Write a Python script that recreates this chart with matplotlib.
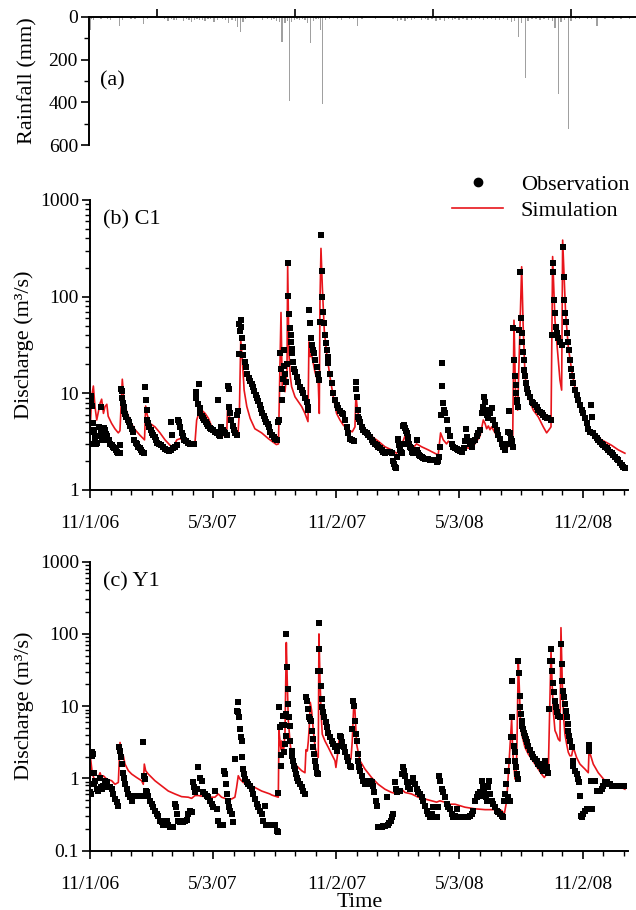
import matplotlib
matplotlib.use('Agg')
import matplotlib.pyplot as plt
import matplotlib.ticker as ticker
from matplotlib.lines import Line2D
import numpy as np

plt.rcParams['font.family'] = ['Liberation Serif', 'DejaVu Serif']

# x values are days since 11/1/06
date_ticks = [0, 183, 366, 549, 732]
date_labels = ['11/1/06', '5/3/07', '11/2/07', '5/3/08', '11/2/08']
rain_ticks = [99, 303, 508, 712]

# (day, mm)
rain = [(0, 60), (2, 8), (5, 12), (9, 6), (12, 5), (16, 10), (20, 6), (25, 8), (30, 14), (36, 5),
        (43, 40), (48, 12), (55, 6), (60, 8), (66, 10), (72, 5), (79, 35), (85, 8), (90, 6), (96, 4),
        (103, 6), (110, 10), (115, 18), (120, 8), (124, 15), (128, 12), (133, 5), (138, 18), (142, 10),
        (146, 14), (150, 22), (154, 12), (158, 8), (162, 16), (166, 12), (170, 20), (174, 8), (178, 10),
        (183, 25), (188, 12), (192, 6), (196, 10), (200, 14), (205, 30), (210, 12), (215, 18), (218, 45),
        (222, 70), (226, 25), (230, 8), (236, 6), (242, 10), (248, 6), (255, 12), (262, 8), (268, 14),
        (272, 10), (276, 18), (280, 22), (284, 115), (288, 30), (292, 20), (295, 395), (298, 25),
        (302, 14), (306, 10), (310, 15), (314, 8), (318, 12), (322, 30), (326, 120), (330, 20),
        (334, 10), (338, 8), (341, 60), (344, 410), (348, 15), (354, 10), (360, 6), (366, 8), (372, 12),
        (378, 6), (384, 10), (390, 8), (396, 40), (402, 10), (408, 6), (415, 5), (422, 8), (430, 6),
        (440, 5), (448, 10), (455, 18), (460, 12), (466, 20), (470, 8), (476, 15), (480, 10), (486, 6),
        (490, 12), (496, 8), (500, 14), (506, 10), (512, 18), (518, 12), (524, 20), (530, 10), (536, 15),
        (540, 8), (546, 12), (552, 10), (558, 16), (564, 12), (570, 8), (576, 10), (582, 14), (588, 8),
        (594, 10), (600, 12), (606, 16), (612, 10), (618, 14), (624, 25), (628, 18), (634, 95), (638, 30),
        (644, 285), (648, 20), (654, 10), (660, 8), (666, 12), (672, 10), (678, 15), (684, 20), (688, 50),
        (693, 360), (697, 25), (702, 15), (708, 525), (712, 20), (718, 10), (724, 8), (730, 6), (736, 10),
        (742, 8), (750, 40), (756, 6), (762, 10), (768, 5), (774, 8), (780, 6), (786, 10), (792, 5),
        (798, 8), (804, 5)]

# (day, m3/s) station C1
c1_obs = [(0, 3.0), (1, 9.4), (2, 8.6), (3, 7.4), (4, 4.9), (5, 4.0), (6, 4.2), (7, 3.6), (8, 3.2), (9, 3.0),
          (10, 3.1), (12, 3.6), (14, 4.5), (16, 4.0), (17, 7.3), (18, 3.5), (19, 3.3), (20, 3.8), (21, 4.4),
          (22, 4.2), (24, 3.8), (25, 3.6), (26, 3.5), (28, 3.3), (30, 3.0), (32, 2.9), (34, 2.8), (36, 2.7),
          (38, 2.6), (40, 2.5), (42, 2.4), (44, 2.4), (45, 2.9), (46, 11.2), (47, 10.6), (48, 9.0), (49, 8.0),
          (50, 7.2), (51, 6.6), (52, 6.1), (54, 5.7), (56, 5.3), (58, 5.0), (60, 4.6), (62, 4.3), (64, 4.0),
          (66, 3.3), (68, 3.1), (70, 3.0), (72, 2.8), (74, 2.7), (76, 2.6), (78, 2.5), (80, 2.4), (82, 11.5),
          (83, 8.5), (84, 6.7), (85, 5.3), (86, 4.9), (88, 4.5), (90, 4.2), (92, 3.9), (94, 3.7), (96, 3.5),
          (98, 3.3), (100, 3.1), (102, 3.0), (105, 2.9), (108, 2.8), (111, 2.65), (114, 2.6), (117, 2.55),
          (120, 2.6), (121, 5.1), (122, 3.7), (124, 2.7), (127, 2.8), (129, 2.9), (131, 5.3), (132, 5.0),
          (134, 4.5), (136, 3.9), (138, 3.6), (140, 3.3), (143, 3.2), (146, 3.1), (149, 3.0), (152, 3.0),
          (155, 3.0), (157, 10.3), (158, 9.0), (160, 7.7), (162, 12.4), (163, 7.0), (164, 6.2), (166, 5.8),
          (168, 5.6), (170, 5.3), (172, 5.0), (174, 4.8), (176, 4.6), (178, 4.4), (180, 4.3), (183, 4.2),
          (186, 4.0), (188, 3.9), (190, 8.5), (191, 3.7), (193, 3.6), (195, 4.5), (197, 4.2), (199, 4.0),
          (201, 3.9), (203, 3.7), (205, 11.8), (206, 11.0), (207, 7.3), (208, 6.2), (210, 5.3), (212, 4.6),
          (214, 4.2), (216, 3.9), (218, 3.7), (219, 6.0), (220, 6.5), (221, 25.8), (222, 52), (223, 44),
          (224, 57), (225, 48), (226, 37), (227, 30), (228, 25), (230, 21), (232, 18.8), (234, 16),
          (236, 14.5), (238, 13.5), (240, 12.5), (242, 11.5), (244, 10.5), (246, 9.6), (248, 9.0), (250, 8.3),
          (252, 7.5), (254, 6.9), (256, 6.3), (258, 5.8), (260, 5.4), (262, 5.1), (264, 4.8), (266, 4.5),
          (268, 4.0), (270, 3.7), (273, 3.5), (275, 3.4), (278, 3.3), (280, 5.0), (281, 5.3), (283, 26),
          (284, 18), (285, 11), (286, 8.5), (287, 14), (288, 28), (289, 19), (290, 16), (291, 13), (292, 20),
          (293.7, 224), (294.7, 101), (295.6, 66), (297, 47), (298, 40), (298.6, 34), (299.6, 29),
          (300.6, 26), (302, 21), (303.6, 18), (304.6, 16.7), (307, 14.9), (309.5, 13.2), (312, 11.7),
          (314.5, 10.8), (317, 10), (319.4, 8.9), (322, 8.2), (323.4, 7.3), (324.4, 6.7), (325.4, 73),
          (326.9, 54), (327.9, 37), (329.3, 31.7), (330.8, 28), (332.3, 26), (334.3, 22), (336.8, 18.8),
          (339.2, 16), (340.7, 13.7), (341.7, 55), (342.7, 435), (344.2, 186), (345.2, 99), (346.7, 70),
          (348.2, 53), (349.2, 40), (350.6, 33), (351.6, 28), (353.1, 24), (354.1, 20.5), (356.6, 16),
          (359, 12.7), (361.5, 10), (364, 8.5), (366.5, 7.6), (369, 7), (371.4, 6.5), (373.9, 6.2),
          (376.4, 6.1), (378.9, 5.3), (381.3, 4.5), (383.8, 3.9), (386.3, 3.4), (389.8, 3.3), (392, 3.2),
          (394.7, 13), (395.5, 11), (396.2, 9.2), (397.7, 6.7), (398.7, 5.7), (400, 5.4), (401.2, 5.1),
          (403.6, 4.5), (406, 4.2), (408.6, 4.0), (411, 3.85), (413.5, 3.7), (416, 3.5), (418.5, 3.3),
          (421, 3.15), (423.4, 3.0), (426, 2.9), (428.4, 2.8), (431, 2.7), (433.3, 2.6), (436, 2.5),
          (438.3, 2.4), (441, 2.45), (443.3, 2.5), (446, 2.45), (448.2, 2.4), (450.7, 2.0), (452, 1.85),
          (453, 1.74), (454, 1.7), (455.5, 2.2), (457, 3.4), (458, 3.3), (459, 2.9), (460.6, 2.6), (462, 2.5),
          (463, 2.4), (464.5, 3.0), (465.5, 4.6), (466.5, 4.7), (468, 4.4), (469, 4.1), (470.5, 3.9),
          (472, 3.5), (473, 3.3), (474, 3.0), (475.4, 2.8), (477, 2.7), (478, 2.6), (479, 2.5), (480.4, 2.4),
          (482, 2.4), (483.5, 2.5), (485.4, 3.3), (486, 2.6), (487.8, 2.4), (489, 2.3), (490.5, 2.25),
          (492.8, 2.2), (495, 2.15), (497.7, 2.1), (500, 2.1), (502.7, 2.08), (505, 2.06), (507.6, 2.04),
          (510, 2.05), (512.6, 2.04), (515, 1.96), (517.5, 2.0), (519, 2.2), (520, 2.8), (521.5, 6.0),
          (522.5, 20.5), (523.5, 12), (525, 7.9), (526.2, 6.8), (527.5, 6.2), (530, 5.3), (532.5, 4.2),
          (535, 3.6), (537.4, 3.0), (540, 2.8), (542.4, 2.7), (545, 2.65), (547.3, 2.6), (550, 2.55),
          (552.3, 2.5), (555, 2.7), (557.2, 3.2), (558.2, 4.3), (559.7, 3.55), (562.2, 3.2), (564.5, 3.0),
          (567.1, 2.8), (569.6, 3.2), (572, 3.3), (574.5, 3.6), (577, 3.9), (579.5, 4.2), (582, 6.2),
          (583.4, 7.3), (585.4, 9.2), (586.9, 8.2), (588.4, 6.7), (589.4, 6.0), (591.9, 5.5), (594.3, 6.2),
          (596.8, 7.0), (599.3, 5.3), (601.8, 4.7), (604.2, 4.2), (606.7, 3.7), (609.2, 3.4), (611.7, 3.0),
          (614.1, 2.8), (616.6, 2.6), (619.1, 3.0), (621, 4.0), (622.6, 6.5), (624, 3.9), (625.5, 3.4),
          (626.5, 3.2), (628, 2.8), (629, 47), (630.5, 22), (631.5, 15), (632.5, 12.2), (633, 10), (634, 8.5),
          (635, 8.2), (636.4, 7.3), (637.4, 45), (638.9, 181), (640.4, 60), (641.4, 41.8), (642.4, 34),
          (643.3, 27), (644.3, 22), (645.3, 17.5), (646.3, 15), (647.8, 12.7), (649.3, 11.2), (651.3, 10),
          (653.7, 9.2), (656.2, 8.2), (658.7, 7.9), (661.2, 7.6), (663.6, 7.3), (666.1, 6.7), (668.5, 6.4),
          (671, 6.2), (673.5, 5.9), (676, 5.7), (678.5, 5.6), (681, 5.5), (685, 5.3), (686, 40), (687.4, 181),
          (688.4, 221), (689.9, 92), (690.9, 67), (692.4, 49), (693.8, 42), (695.8, 37), (698.3, 34),
          (700.8, 31.5), (702.3, 330), (703.8, 160), (704.8, 92), (705.7, 67), (706.7, 55), (708.2, 42),
          (709.7, 34), (711.7, 28), (713.2, 22), (714.6, 18), (716.6, 15), (718.1, 12.7), (720.6, 10.8),
          (723, 9.6), (725.5, 8.5), (728, 7.6), (730.5, 6.7), (733, 6.2), (735.4, 5.5), (737.9, 4.9),
          (740.4, 4.3), (742.9, 4.0), (744.4, 7.6), (745.3, 5.7), (747.8, 3.9), (750.3, 3.6), (752.8, 3.45),
          (755.3, 3.3), (757.8, 3.15), (760.3, 3.0), (762.8, 2.9), (765.2, 2.8), (767.7, 2.7), (770.2, 2.6),
          (772.7, 2.5), (775.1, 2.4), (777.6, 2.3), (780, 2.2), (782.5, 2.1), (785, 2.04), (787.5, 1.9),
          (790, 1.8), (792.5, 1.75), (795, 1.67)]

c1_sim = [(0, 4.0), (2.5, 9.2), (5, 11.9), (7.4, 7.3), (10, 5.3), (12, 6.2), (15, 7.9), (17.3, 8.7), (20, 6.2),
          (22.3, 7.3), (25, 7.7), (27, 5.8), (32, 4.9), (37, 4.3), (42, 3.9), (44.5, 4.1), (48, 14), (50, 9.2),
          (52, 7.3), (57, 5.8), (62, 4.8), (67, 4.2), (74, 3.7), (81, 3.3), (82.7, 7.4), (85, 6.0), (89, 4.9),
          (96.5, 4.5), (104, 3.9), (111.5, 3.3), (119, 2.9), (124, 2.8), (129, 3.3), (134, 3.4), (141, 3.2),
          (151, 3.0), (156, 3.1), (158.5, 5.3), (161, 6.0), (166, 6.7), (171, 6.2), (176, 5.5), (181, 4.5),
          (188, 4.0), (196, 3.7), (203, 3.6), (204.5, 7.3), (206.5, 6.0), (210.5, 4.8), (215.5, 3.9),
          (220, 3.9), (222, 6.6), (224, 35.5), (226.5, 21.8), (229, 10.8), (233, 7.3), (238, 5.5), (245, 4.3),
          (255, 3.9), (265, 3.4), (277, 2.95), (280, 3.0), (283.8, 68.6), (285.7, 10.8), (287.7, 11.7),
          (289.7, 10.4), (292.7, 17), (293.7, 212), (295.6, 26), (297.6, 15), (299.6, 11.7), (304.6, 9.2),
          (309.5, 8.2), (314.5, 7.3), (319.4, 6.2), (323.9, 5.1), (325.3, 34), (327.3, 24), (329.3, 25),
          (334.3, 16.6), (339.2, 12.7), (340.7, 6.2), (341.7, 86), (343.2, 316), (345.2, 127), (348.1, 45),
          (351.6, 26), (356.5, 15), (361.5, 9.2), (366.4, 6.2), (371.4, 5.3), (376.3, 4.7), (383.8, 4.2),
          (389.7, 4.0), (393.7, 4.5), (395.1, 9.6), (397.6, 6.5), (401.1, 5.3), (408.5, 4.3), (418.4, 3.6),
          (428.3, 3.2), (438.2, 2.8), (448.1, 2.6), (455.5, 2.4), (460.5, 2.6), (467.9, 3.6), (472.9, 3.0),
          (477.8, 2.6), (485.2, 3.0), (492.7, 2.8), (502.6, 2.6), (512.5, 2.4), (517.4, 2.3), (520.9, 3.9),
          (524.9, 3.3), (529.8, 3.0), (532.5, 3.2), (542.4, 2.8), (552.3, 2.6), (557.2, 2.8), (562.2, 2.7),
          (572, 3.0), (579.5, 3.6), (584.4, 5.3), (586.9, 4.9), (589.4, 4.3), (591.9, 4.6), (594.3, 4.2),
          (596.8, 4.5), (601.8, 3.9), (611.7, 3.0), (619.1, 2.7), (624, 3.0), (628, 3.0), (630, 57),
          (632.5, 8.5), (635.4, 6.7), (637.4, 20), (641.4, 204), (643.8, 45), (646.3, 16), (648.8, 10.8),
          (653.7, 8.2), (658.7, 6.7), (666.1, 5.7), (673.5, 4.5), (678.5, 3.9), (682, 4.2), (685, 4.5),
          (687.4, 260), (690.9, 57), (695.8, 22), (698.3, 13.7), (700.8, 10.8), (702.3, 385), (704.7, 148),
          (706.7, 67), (710.7, 30), (715.6, 17.5), (723, 9.2), (730.5, 6.2), (737.9, 4.7), (742.9, 3.9),
          (745.3, 4.2), (750.3, 3.7), (760.2, 3.3), (775, 2.9), (785, 2.6), (794.8, 2.4)]

# (day, m3/s) station Y1
y1_obs = [(0, 0.64), (1.5, 0.61), (2.5, 2.3), (3.5, 2.06), (5, 2.17), (5.5, 0.83), (6.4, 1.2), (7.4, 0.93),
          (9.9, 0.71), (12.4, 0.68), (14.9, 1.03), (16.3, 0.75), (18, 0.72), (19.8, 0.79), (22.3, 0.93),
          (24.8, 0.88), (27.2, 0.75), (29.7, 0.75), (32.2, 0.71), (34.7, 0.61), (37.1, 0.52), (39.6, 0.47),
          (42.1, 0.42), (43.6, 2.7), (45, 2.4), (46, 1.95), (47, 1.58), (48.5, 1.2), (50, 1.03), (52, 0.83),
          (54.5, 0.71), (57, 0.61), (59.4, 0.55), (61.9, 0.49), (64.4, 0.58), (66.8, 0.58), (69, 0.58),
          (71.8, 0.58), (74, 0.58), (76.7, 0.58), (79.2, 3.15), (80.2, 1.09), (81.7, 0.98), (82.7, 0.67),
          (84.2, 0.64), (86.6, 0.58), (89.1, 0.49), (91.6, 0.44), (94, 0.40), (96.5, 0.36), (99, 0.32),
          (101.5, 0.3), (104, 0.26), (106.4, 0.25), (108.9, 0.23), (111.4, 0.26), (113.9, 0.26), (116.3, 0.23),
          (118.8, 0.21), (121.3, 0.21), (123.8, 0.21), (126.2, 0.44), (127.2, 0.40), (128.7, 0.32),
          (131.2, 0.26), (133.7, 0.25), (136.1, 0.26), (138.6, 0.25), (141.1, 0.26), (143.6, 0.27), (146, 0.32),
          (148.5, 0.36), (151, 0.34), (153.5, 0.88), (155, 0.75), (156, 0.64), (158.4, 0.71), (160.9, 1.42),
          (163.4, 1.03), (165.8, 0.93), (168.3, 0.64), (170.8, 0.61), (173.3, 0.58), (175.7, 0.55),
          (178.2, 0.49), (180.7, 0.44), (183.2, 0.40), (185.6, 0.67), (188, 0.38), (190.6, 0.26), (193, 0.23),
          (195.5, 0.23), (198, 0.23), (199.5, 1.28), (200.5, 1.15), (201.5, 0.83), (203, 0.61), (204.5, 0.49),
          (206.4, 0.40), (208, 0.36), (210.4, 0.32), (212.9, 0.25), (215.3, 1.85), (217.8, 8.6), (219.3, 11.3),
          (220.3, 8.2), (221.3, 7.0), (222.8, 4.8), (224.3, 3.7), (225.2, 3.3), (226.2, 1.95), (227.7, 1.35),
          (229.2, 1.15), (230.2, 0.98), (232.7, 0.88), (235.1, 0.83), (237.6, 0.79), (240, 0.71), (242.6, 0.61),
          (245, 0.52), (247.5, 0.44), (250, 0.40), (252.5, 0.36), (255, 0.32), (257.4, 0.26), (260, 0.42),
          (261, 0.23), (262.5, 0.23), (265, 0.23), (267.5, 0.23), (270, 0.23), (272.5, 0.23), (274.9, 0.23),
          (277.3, 0.19), (279.8, 0.18), (279.9, 0.62), (280.8, 9.8), (282.3, 5.1), (283.3, 2.1), (283.8, 1.5),
          (285.7, 5.5), (287.2, 7.4), (288.2, 5.5), (288.7, 2.3), (289.7, 3.0), (290.7, 3.9), (291.2, 7.8),
          (291.7, 100), (292.7, 35), (293.7, 17.2), (294.7, 10.6), (295.6, 7.0), (296.6, 5.3), (297.6, 3.3),
          (299.6, 2.4), (300.6, 2.06), (302, 1.76), (303.6, 1.5), (304.6, 1.35), (306, 1.15), (307.5, 1.03),
          (309.5, 0.93), (312, 0.85), (314.5, 0.75), (317, 0.67), (319.4, 0.61), (320.9, 13.2), (322.4, 11.9),
          (324.4, 9.1), (325.8, 7.0), (326.8, 6.6), (328.3, 6.3), (329.3, 4.6), (330.8, 3.5), (331.8, 2.7),
          (333.3, 2.17), (334.3, 1.76), (335.7, 1.42), (337.2, 1.2), (338.2, 1.15), (339.2, 31), (340.2, 62),
          (340.7, 141), (341.7, 31), (342.7, 19.2), (344.2, 12.5), (345.1, 9.6), (346.6, 8.2), (348.1, 7.0),
          (350.1, 6.0), (352.1, 5.1), (354, 4.3), (356.5, 3.7), (359, 3.3), (361.5, 3.0), (364, 2.7),
          (366.4, 2.4), (368.9, 2.8), (371.4, 3.9), (372.9, 3.7), (374.9, 3.15), (376.8, 2.7), (378.8, 2.3),
          (381.3, 1.95), (383.8, 1.76), (386.2, 1.5), (387.7, 1.42), (389.7, 4.8), (391.2, 11.9), (392.7, 10.1),
          (393.7, 6.3), (394.7, 4.1), (396.1, 3.3), (397.6, 2.17), (398.6, 1.76), (400.1, 1.42), (401.6, 1.28),
          (403.6, 1.09), (406, 0.93), (408.5, 0.83), (411, 0.85), (413.5, 0.93), (415.9, 0.93), (418.4, 0.88),
          (420.9, 0.79), (422.4, 0.64), (424.4, 0.49), (425.8, 0.42), (428.3, 0.21), (430.8, 0.21),
          (433.3, 0.21), (435.8, 0.22), (438.2, 0.22), (440.7, 0.56), (443.2, 0.23), (445, 0.24), (447.1, 0.26),
          (449.1, 0.29), (450.6, 0.32), (453, 0.88), (454, 0.71), (455.5, 0.64), (458, 0.67), (460.5, 0.67),
          (463, 1.15), (464.5, 1.42), (466, 1.28), (468, 1.09), (470.4, 0.88), (472.9, 0.75), (475.4, 0.71),
          (477.8, 0.88), (480.3, 1.03), (482.8, 0.83), (485.2, 0.71), (487.7, 0.64), (490.2, 0.61),
          (492.7, 0.55), (495.1, 0.49), (497.6, 0.42), (500.1, 0.36), (502.6, 0.32), (505, 0.29), (507.5, 0.32),
          (510, 0.40), (512.5, 0.29), (515, 0.29), (517.4, 0.40), (518.9, 1.09), (519.9, 0.93), (522.4, 0.71),
          (524.9, 0.64), (527.3, 0.55), (529.8, 0.44), (532.3, 0.40), (535, 0.38), (537.4, 0.32), (539.9, 0.29),
          (542, 0.3), (544.8, 0.38), (547.3, 0.29), (550, 0.29), (552.3, 0.29), (555, 0.29), (557.2, 0.29),
          (560, 0.29), (562.2, 0.29), (565, 0.3), (567.1, 0.32), (569.6, 0.36), (572, 0.49), (574.5, 0.55),
          (577, 0.61), (579.5, 0.64), (582, 0.93), (583.4, 0.79), (584.4, 0.58), (585.9, 0.64), (587.9, 0.55),
          (589.4, 0.49), (591.9, 0.75), (593.3, 0.93), (594.8, 0.61), (596.8, 0.49), (599.3, 0.44),
          (601.8, 0.40), (604.2, 0.36), (606.7, 0.34), (609.2, 0.32), (611.7, 0.30), (614.1, 0.29),
          (615.6, 0.49), (616.6, 0.61), (618.1, 0.83), (619.1, 1.28), (620.6, 1.76), (621.6, 0.55), (624, 0.49),
          (625.5, 3.7), (626.5, 7.0), (627.5, 22.5), (629, 3.7), (630, 2.8), (631, 2.3), (632, 1.76),
          (633, 1.42), (634, 1.15), (635.4, 0.98), (636.4, 42.4), (637.4, 29), (638.4, 14), (639.4, 9.8),
          (640.4, 7.8), (641.4, 6.3), (642.4, 5.3), (643.8, 4.8), (645.3, 4.3), (646.3, 3.9), (647.8, 3.5),
          (649.8, 3.15), (651.3, 2.8), (653.7, 2.5), (656.2, 2.17), (658.7, 1.95), (661.2, 1.85), (663.6, 1.76),
          (666.1, 1.58), (668.6, 1.5), (671, 1.35), (673.5, 1.28), (675, 1.58), (676, 1.76), (678.5, 1.42),
          (681, 1.2), (682, 9.1), (683.4, 42.4), (685, 61), (686, 42), (687, 31), (688.4, 21), (689.4, 15.5),
          (690.9, 11.9), (692.4, 9.6), (693.8, 8.2), (695.8, 7.4), (698.3, 7.0), (699.8, 72), (700.8, 38),
          (701.8, 22.5), (703.2, 16.3), (704.2, 13.2), (705.7, 10.6), (706.7, 8.7), (708.2, 7.0), (709.7, 5.6),
          (710.7, 4.6), (712.2, 3.9), (713.6, 3.3), (715.6, 2.7), (717.1, 1.76), (718.1, 1.5), (720.6, 1.28),
          (723, 1.15), (725.5, 0.98), (727, 0.88), (728, 0.58), (729.5, 0.3), (730.5, 0.29), (733, 0.32),
          (735.4, 0.36), (737.9, 0.38), (740.4, 0.38), (741.4, 2.9), (741.9, 2.4), (742.9, 0.38), (744.3, 0.93),
          (745.3, 0.38), (747.8, 0.93), (750.3, 0.93), (752.7, 0.67), (755.2, 0.67), (757.7, 0.67),
          (760.2, 0.71), (762.7, 0.79), (765.1, 0.88), (767.6, 0.88), (770.1, 0.83), (772.6, 0.83), (775, 0.79),
          (777.5, 0.79), (780, 0.79), (782.5, 0.79), (785, 0.79), (787.5, 0.79), (790, 0.79), (794, 0.79)]

y1_sim = [(0, 0.93), (1, 1.85), (3.5, 1.15), (7.4, 0.93), (12.4, 1.03), (14.9, 1.2), (17.3, 1.03), (19.8, 1.09),
          (24.8, 0.98), (32.2, 0.93), (37.1, 0.83), (42.1, 0.88), (44.6, 3.15), (47, 2.17), (49.5, 2.06),
          (52, 1.58), (57, 1.28), (61.9, 1.15), (69.3, 1.03), (76.7, 0.93), (79.2, 0.83), (80.7, 1.58),
          (82.7, 1.28), (86.6, 1.15), (96.5, 0.93), (106.4, 0.79), (116.3, 0.67), (126.2, 0.61), (136.1, 0.56),
          (146, 0.55), (151, 0.53), (156, 0.58), (160.9, 0.58), (170.8, 0.56), (178.2, 0.55), (185.6, 0.55),
          (190.6, 0.61), (195.5, 0.55), (203, 0.52), (210.4, 0.52), (215.3, 0.55), (217.8, 0.75), (220.3, 1.09),
          (222.8, 0.98), (227.7, 0.88), (235.1, 0.83), (245, 0.75), (255, 0.67), (267.3, 0.61), (270, 0.59),
          (279.8, 0.55), (280.8, 4.6), (282.3, 3.3), (283.8, 2.5), (284.8, 3.3), (287.2, 2.17), (289.7, 4.1),
          (291.7, 76), (293.2, 20), (294.7, 6.3), (297.1, 3.3), (299.6, 1.95), (304.6, 1.58), (309.5, 1.42),
          (314.5, 1.28), (319.4, 1.2), (320.9, 2.5), (322.9, 2.4), (324.4, 3.3), (325.8, 5.1), (327.3, 11.3),
          (329.3, 8.7), (331.8, 4.6), (334.3, 2.8), (336.7, 2.17), (339.2, 1.95), (340.2, 100), (341.7, 25),
          (343.2, 8.7), (345.1, 4.1), (349.1, 3.3), (354, 2.7), (359, 2.17), (364, 1.76), (365.4, 1.42),
          (367.9, 2.17), (369.9, 3.3), (371.4, 3.8), (373.9, 3.3), (378.8, 2.4), (383.8, 1.95), (387.7, 1.85),
          (389.7, 3.3), (392.2, 12.5), (393.7, 8.7), (396.1, 3.0), (401.1, 1.76), (408.5, 1.35), (418.4, 1.03),
          (428.3, 0.83), (438.2, 0.71), (448.1, 0.64), (458, 0.61), (463, 0.71), (468, 0.64), (477.8, 0.61),
          (487.7, 0.55), (497.6, 0.52), (507.5, 0.49), (515, 0.47), (519.9, 0.49), (527.3, 0.47), (532.3, 0.44),
          (542.4, 0.44), (557.2, 0.40), (572, 0.38), (587, 0.37), (601.8, 0.37), (611.7, 0.36), (615.6, 0.32),
          (619.1, 0.49), (621.6, 1.15), (626.5, 6.6), (628, 2.5), (630, 1.42), (631.5, 0.98), (633, 1.0),
          (634.4, 3.0), (636.4, 43), (637.9, 18.2), (639.4, 7.0), (641.4, 4.1), (646.3, 2.7), (651.3, 2.17),
          (656.2, 1.85), (661.2, 1.58), (666.1, 1.35), (671, 1.15), (675, 1.03), (678.5, 1.15), (681, 1.28),
          (683.4, 11.9), (685, 58), (686.9, 18.2), (688.4, 8.6), (690.9, 4.6), (693.3, 4.1), (695.8, 3.5),
          (698.3, 3.3), (699.8, 122), (701.8, 20), (703.7, 7.0), (705.7, 4.1), (708.2, 3.0), (710.7, 2.3),
          (713.1, 2.06), (715.6, 2.06), (718.1, 2.7), (720.6, 2.3), (723, 1.95), (728, 1.58), (735.4, 1.35),
          (740.4, 1.2), (741.4, 2.3), (743.3, 2.17), (747.8, 1.58), (755.2, 1.2), (765.1, 0.93), (775, 0.83),
          (784.9, 0.79), (794.8, 0.71)]

RED = '#e8151b'
W, H = 636, 910


def style_discharge(ax, ymin, label):
    ax.set_yscale('log')
    ax.set_ylim(ymin, 1000)
    ax.set_xlim(0, 800)
    for s in ['top', 'right']:
        ax.spines[s].set_visible(False)
    for s in ['left', 'bottom']:
        ax.spines[s].set_linewidth(1.4)
    ax.set_xticks(date_ticks)
    ax.set_xticklabels(date_labels)
    ax.xaxis.set_minor_locator(ticker.FixedLocator(np.arange(0, 801, 30.5)))
    ax.yaxis.set_major_formatter(ticker.FuncFormatter(lambda v, p: '%g' % v))
    ax.yaxis.set_minor_formatter(ticker.NullFormatter())
    ax.tick_params(which='major', direction='out', length=6, width=1.2, labelsize=14)
    ax.tick_params(axis='x', which='major', pad=12)
    ax.tick_params(axis='y', which='major', pad=2)
    ax.tick_params(which='minor', direction='out', length=3.5, width=1.0)
    ax.set_ylabel('Discharge (m³/s)', fontsize=16)
    ax.yaxis.set_label_coords(-0.104, 0.5)
    ax.text(0.024, 0.93, label, transform=ax.transAxes, fontsize=16, va='center')


fig = plt.figure(figsize=(W / 100, H / 100), dpi=100)

# (a) rainfall
ax_r = fig.add_axes([89 / W, 1 - 145 / H, 547 / W, 128 / H])
rd, rmm = zip(*rain)
ax_r.bar(rd, rmm, width=2.0, color='#a0a0a0', linewidth=0)
ax_r.set_xlim(-2, 808)
ax_r.set_ylim(600, 0)
ax_r.xaxis.tick_top()
ax_r.set_xticks(rain_ticks)
ax_r.set_xticklabels([])
ax_r.set_yticks([0, 200, 400, 600])
ax_r.yaxis.set_minor_locator(ticker.FixedLocator([100, 300, 500]))
for s in ['bottom', 'right']:
    ax_r.spines[s].set_visible(False)
for s in ['top', 'left']:
    ax_r.spines[s].set_linewidth(1.4)
ax_r.tick_params(which='major', direction='out', length=6, width=1.2, labelsize=14, pad=2)
ax_r.tick_params(which='minor', direction='out', length=3.5, width=1.0)
ax_r.set_ylabel('Rainfall (mm)', fontsize=16)
ax_r.yaxis.set_label_coords(-0.095, 0.5)
ax_r.text(0.02, 0.5, '(a)', transform=ax_r.transAxes, fontsize=16, va='center')

# (b) C1
ax_b = fig.add_axes([90 / W, 1 - 490 / H, 538.4 / W, 290 / H])
d, q = zip(*c1_sim)
ax_b.plot(d, q, color=RED, lw=1.2)
d, q = zip(*c1_obs)
ax_b.plot(d, q, 's', color='black', ms=3.8, mew=0)
style_discharge(ax_b, 1, '(b) C1')

# (c) Y1
ax_c = fig.add_axes([90 / W, 1 - 850.7 / H, 538.4 / W, 289 / H])
d, q = zip(*y1_sim)
ax_c.plot(d, q, color=RED, lw=1.2)
d, q = zip(*y1_obs)
ax_c.plot(d, q, 's', color='black', ms=3.8, mew=0)
style_discharge(ax_c, 0.1, '(c) Y1')
ax_c.set_xlabel('Time', fontsize=16, labelpad=0)

handles = [Line2D([], [], marker='o', ls='none', color='black', ms=6),
           Line2D([], [], color=RED, lw=1.2)]
fig.legend(handles, ['Observation', 'Simulation'], loc='upper left',
           bbox_to_anchor=(452 / W, 1 - 174 / H), frameon=False, fontsize=16,
           borderpad=0, borderaxespad=0, handlelength=2.3, handletextpad=0.8,
           labelspacing=0.25)

fig.savefig('out.png', dpi=100)
